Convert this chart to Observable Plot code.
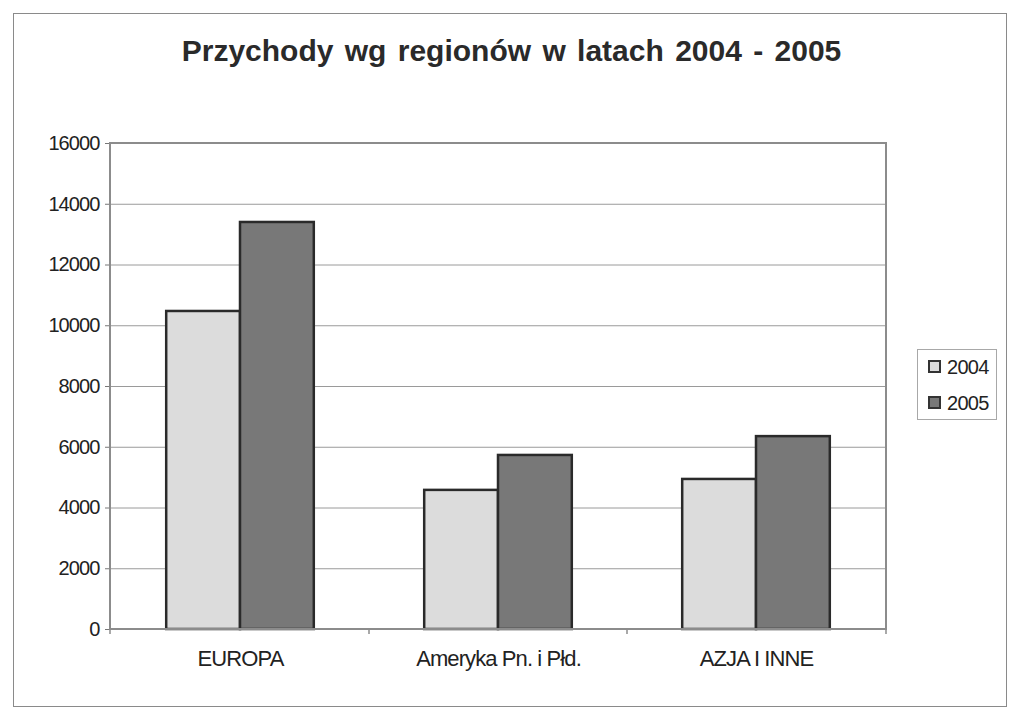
<!DOCTYPE html>
<html>
<head>
<meta charset="utf-8">
<script src="https://cdn.jsdelivr.net/npm/d3@7"></script>
<script src="https://cdn.jsdelivr.net/npm/@observablehq/plot@0.6"></script>
<style>
  html, body { margin: 0; padding: 0; background: #fff; }
  body { width: 1023px; height: 723px; position: relative; overflow: hidden; font-family: "Liberation Sans", Arial, sans-serif; }
  #outer { position: absolute; left: 13px; top: 13px; width: 994px; height: 694px; border: 1.5px solid #8a8a8a; box-sizing: border-box; }
  #title { position: absolute; left: 0; width: 1023px; top: 34px; text-align: center; font-size: 30px; font-weight: bold; color: #2a2a2a; letter-spacing: 0px; word-spacing: 3px; }
  #chart { position: absolute; left: 0; top: 0; }
  #legend { position: absolute; left: 917px; top: 349px; width: 80px; height: 71px; border: 1px solid #a8a8a8; box-sizing: border-box; background: #fff; }
  .item { position: absolute; left: 10px; font-size: 20px; color: #222; letter-spacing: -0.7px; line-height: 20px; }
  .sw { display: inline-block; width: 9px; height: 9px; border: 2px solid #333; margin-right: 6px; vertical-align: 1px; }
</style>
</head>
<body>
<div id="outer"></div>
<div id="chart"></div>
<div id="title">Przychody wg regionów w latach 2004 - 2005</div>
<div id="legend"></div>
<script>
const regions = ["EUROPA", "Ameryka Pn. i Płd.", "AZJA I INNE"];
const years = ["2004", "2005"];
const values2004 = [10470, 4580, 4940];
const values2005 = [13400, 5730, 6350];
const yTicks = [0, 2000, 4000, 6000, 8000, 10000, 12000, 14000, 16000];
const colors = ["#dcdcdc", "#787878"];

const data = [];
regions.forEach((r, i) => {
  data.push({region: r, year: years[0], value: values2004[i]});
  data.push({region: r, year: years[1], value: values2005[i]});
});

const W = 1023, H = 723;
const mL = 110, mR = 137, mT = 143, mB = 94;

const plot = Plot.plot({
  width: W,
  height: H,
  marginLeft: mL,
  marginRight: mR,
  marginTop: mT,
  marginBottom: mB,
  style: { fontFamily: "Liberation Sans, Arial, sans-serif", background: "transparent", overflow: "visible" },
  fx: { domain: regions, padding: 0, label: null },
  x: { domain: years, paddingInner: 0, paddingOuter: 0.748, axis: null, round: false },
  y: { domain: [0, 16000], label: null },
  color: { domain: years, range: colors },
  marks: [
    Plot.gridY(yTicks, { stroke: "#9a9a9a", strokeOpacity: 1, strokeWidth: 1 }),
    Plot.barY(data, { fx: "region", x: "year", y: "value", fill: "year", stroke: "#2a2a2a", strokeWidth: 2.5 }),
    Plot.axisY(yTicks, { tickSize: 6, tickPadding: 6, fontSize: 20, fill: "#222", stroke: "#777", tickFormat: d => String(d), label: null }),
    Plot.axisFx({ anchor: "bottom", tickSize: 0, tickPadding: 21, fontSize: 22, fill: "#222", label: null })
  ]
});

document.getElementById("chart").appendChild(plot);

// plot-area frame and category separators on the axis
const svg = d3.select(plot.tagName.toLowerCase() === "svg" ? plot : plot.querySelector("svg"));
const fx = plot.scale("fx");
const x0 = mL, x1 = W - mR, y0 = mT, y1 = H - mB;
svg.append("rect").attr("x", x0).attr("y", y0).attr("width", x1 - x0).attr("height", y1 - y0)
  .attr("fill", "none").attr("stroke", "#8c8c8c").attr("stroke-width", 2);
const bounds = [x0, ...regions.slice(1).map(r => fx.apply(r)), x1];
svg.append("g").selectAll("line").data(bounds).join("line")
  .attr("x1", d => d).attr("x2", d => d).attr("y1", y1).attr("y2", y1 + 5)
  .attr("stroke", "#8c8c8c").attr("stroke-width", 1.5);
svg.selectAll("text").style("letter-spacing", "-0.9px");

// legend
const legend = document.getElementById("legend");
years.forEach((y, i) => {
  const d = document.createElement("div");
  d.className = "item";
  d.style.top = (7 + i * 36) + "px";
  d.innerHTML = `<span class="sw" style="background:${colors[i]}"></span>${y}`;
  legend.appendChild(d);
});
</script>
</body>
</html>
